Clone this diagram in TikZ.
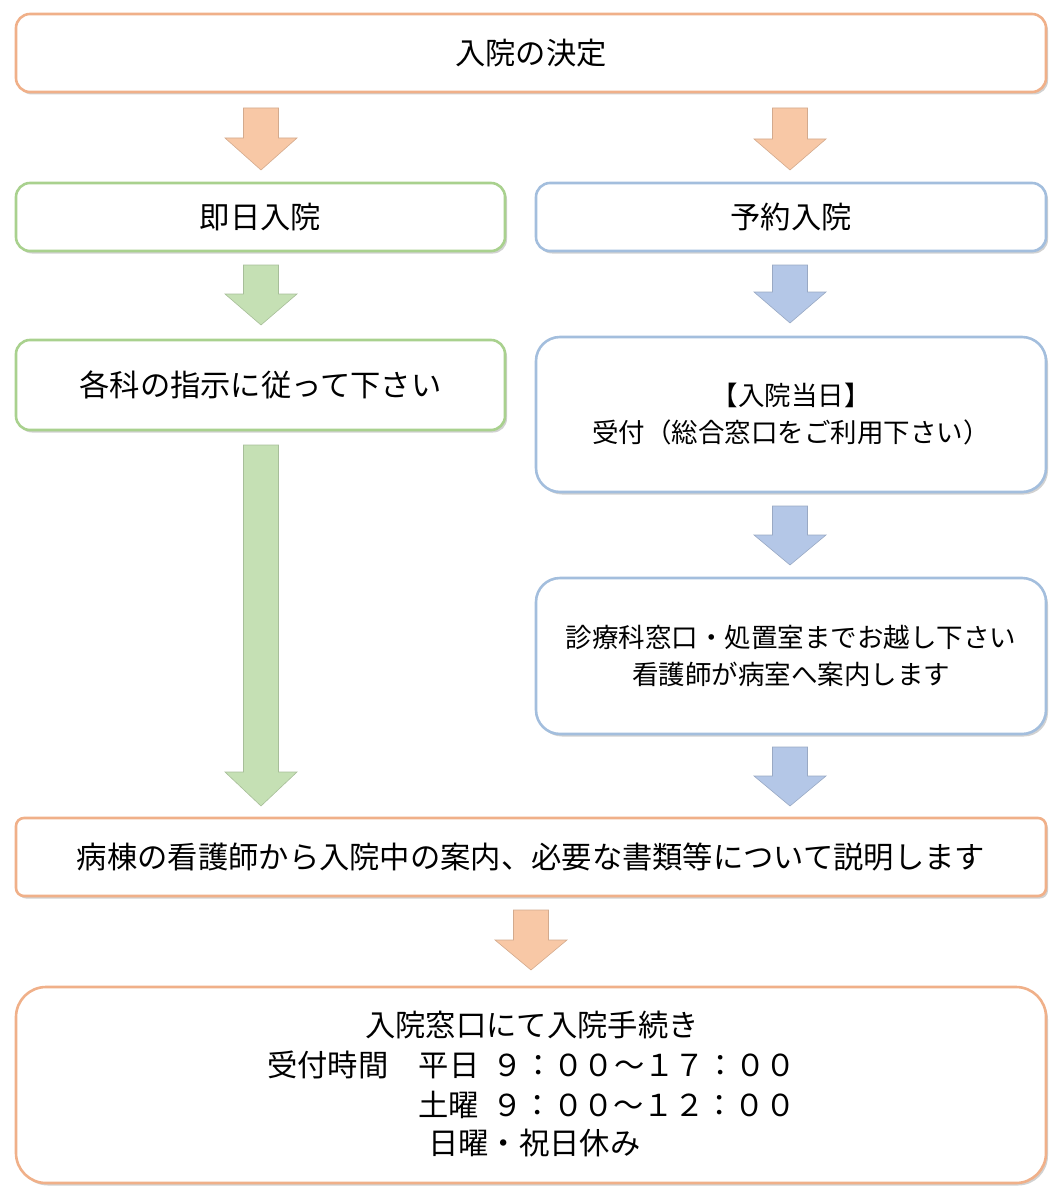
\documentclass[tikz,border=0pt]{standalone}
\usepackage{fontspec}
\setmainfont{Noto Sans CJK JP}
\usetikzlibrary{shadows}
\definecolor{obord}{HTML}{F0B089}
\definecolor{ofill}{HTML}{F8C8A6}
\definecolor{gbord}{HTML}{A9D18E}
\definecolor{gfill}{HTML}{C5E0B4}
\definecolor{bbord}{HTML}{A3BEDD}
\definecolor{bfill}{HTML}{B4C7E7}
\tikzset{
  flowbox/.style={draw, line width=2.6pt, fill=white, rounded corners=#1,
    inner sep=0pt, align=center,
    drop shadow={shadow xshift=2pt, shadow yshift=-2.5pt, opacity=0.18, fill=black}},
  flowbox/.default=14pt,
  bigtxt/.style={font=\fontsize{30.3}{36}\selectfont},
  midtxt/.style={font=\fontsize{26.5}{37}\selectfont},
}
% block arrow: center x, top y, head-base y, tip y, fill colour
\newcommand{\blockarrow}[5]{%
  \filldraw[fill=#5, draw=#5!85!black, line width=0.6pt]
    (#1-17.5,#2) -- (#1+17.5,#2) -- (#1+17.5,#3) -- (#1+36,#3) -- (#1,#4)
    -- (#1-36,#3) -- (#1-17.5,#3) -- cycle;}
\begin{document}
\begin{tikzpicture}[x=1pt,y=-1pt]
\useasboundingbox (0,0) rectangle (1063,1190);
% boxes
\node[flowbox, draw=obord, minimum width=1030, minimum height=78, bigtxt] (decide) at (531,53) {入院の決定};
\node[flowbox, draw=gbord, minimum width=489, minimum height=68, bigtxt] (sokujitsu) at (260.5,217) {即日入院};
\node[flowbox, draw=bbord, minimum width=510, minimum height=68, bigtxt] (yoyaku) at (791,217) {予約入院};
\node[flowbox, draw=gbord, minimum width=489, minimum height=90, bigtxt] (shiji) at (260.5,385) {各科の指示に従って下さい};
\node[flowbox=24pt, draw=bbord, minimum width=510, minimum height=155, midtxt] (uketsuke) at (791,414.5) {【入院当日】\\受付（総合窓口をご利用下さい）};
\node[flowbox=24pt, draw=bbord, minimum width=510, minimum height=156, midtxt] (shinryo) at (791,656) {診療科窓口・処置室までお越し下さい\\看護師が病室へ案内します};
\node[flowbox=8pt, draw=obord, minimum width=1030, minimum height=78, bigtxt] (byoto) at (531,857) {病棟の看護師から入院中の案内、必要な書類等について説明します};
\node[flowbox=30pt, draw=obord, minimum width=1030, minimum height=196] (tetsuzuki) at (531,1085) {};
% bottom box text
\node[bigtxt, inner sep=0pt] (l1) at (532,1025) {入院窓口にて入院手続き};
\node[bigtxt, inner sep=0pt, anchor=west] (l2) at (267,1065) {受付時間　平日\hspace{0.45em}９：００～１７：００};
\node[bigtxt, inner sep=0pt, anchor=west] (l3) at (418,1105) {土曜\hspace{0.45em}９：００～１２：００};
\node[bigtxt, inner sep=0pt, anchor=west] (l4) at (428,1143) {日曜・祝日休み};
% block arrows
\blockarrow{261}{108}{138}{170}{ofill}
\blockarrow{790}{108}{139}{170}{ofill}
\blockarrow{261}{265}{294}{325}{gfill}
\blockarrow{790}{265}{292}{323}{bfill}
\blockarrow{261}{445}{772}{806}{gfill}
\blockarrow{790}{506}{535}{565}{bfill}
\blockarrow{790}{747}{776}{806}{bfill}
\blockarrow{531}{910}{940}{970}{ofill}
\end{tikzpicture}
\end{document}
